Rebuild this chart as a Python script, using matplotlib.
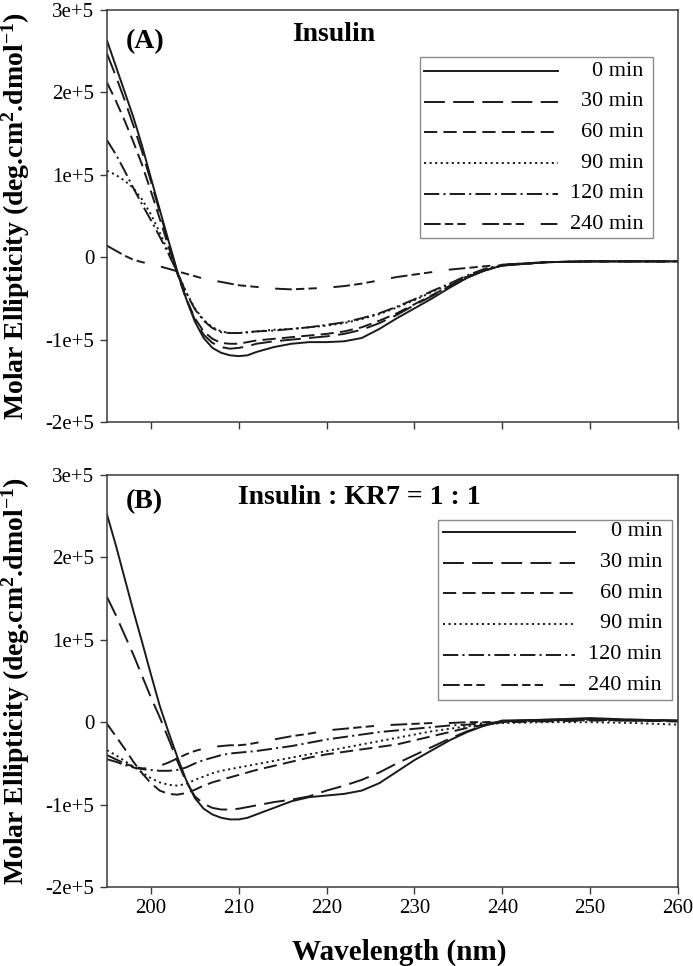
import matplotlib
matplotlib.use('Agg')
import matplotlib.pyplot as plt
from matplotlib.patches import Rectangle
from matplotlib.ticker import FuncFormatter

plt.rcParams['font.family'] = ['Liberation Serif', 'DejaVu Serif']
plt.rcParams['mathtext.default'] = 'regular'
plt.rcParams['lines.scale_dashes'] = False

# ---- data (molar ellipticity in units of 1e5 deg.cm2.dmol-1) ----
SCALE = 1e5
wavelength = [195, 196, 197, 198, 199, 200, 201, 202, 203, 204, 205, 206,
              207, 208, 209, 210, 211, 212, 214, 216, 218, 220, 222, 224,
              226, 228, 230, 232, 234, 236, 238, 240, 245, 250, 255, 260]
time_labels = ['0 min', '30 min', '60 min', '90 min', '120 min', '240 min']

# Panel A: insulin alone
a_0 = [2.63, 2.32, 2.01, 1.70, 1.35, 0.96, 0.58, 0.20, -0.17, -0.50, -0.78, -0.98,
       -1.10, -1.16, -1.19, -1.20, -1.19, -1.15, -1.09, -1.05, -1.03, -1.03, -1.02, -0.98,
       -0.87, -0.74, -0.62, -0.50, -0.37, -0.25, -0.16, -0.10, -0.06, -0.05, -0.05, -0.05]
a_30 = [2.47, 2.20, 1.91, 1.60, 1.28, 0.92, 0.55, 0.18, -0.18, -0.50, -0.76, -0.94,
        -1.04, -1.09, -1.11, -1.10, -1.08, -1.05, -1.02, -1.00, -0.98, -0.96, -0.93, -0.88,
        -0.80, -0.70, -0.58, -0.47, -0.35, -0.24, -0.16, -0.10, -0.06, -0.05, -0.05, -0.05]
a_60 = [2.12, 1.90, 1.66, 1.40, 1.12, 0.80, 0.47, 0.13, -0.20, -0.50, -0.74, -0.90,
        -0.99, -1.04, -1.05, -1.05, -1.03, -1.01, -0.99, -0.97, -0.95, -0.93, -0.90, -0.85,
        -0.77, -0.68, -0.57, -0.46, -0.35, -0.24, -0.16, -0.10, -0.06, -0.05, -0.05, -0.05]
a_90 = [1.05, 1.00, 0.93, 0.84, 0.70, 0.52, 0.30, 0.06, -0.18, -0.42, -0.62, -0.76,
        -0.85, -0.90, -0.92, -0.92, -0.91, -0.90, -0.88, -0.87, -0.85, -0.83, -0.80, -0.75,
        -0.69, -0.61, -0.52, -0.42, -0.33, -0.23, -0.15, -0.10, -0.06, -0.05, -0.05, -0.05]
a_120 = [1.42, 1.25, 1.05, 0.84, 0.64, 0.45, 0.25, 0.04, -0.18, -0.43, -0.63, -0.77,
         -0.86, -0.91, -0.92, -0.92, -0.91, -0.90, -0.89, -0.87, -0.85, -0.82, -0.79, -0.74,
         -0.68, -0.60, -0.51, -0.41, -0.32, -0.22, -0.14, -0.09, -0.06, -0.05, -0.05, -0.05]
a_240 = [0.14, 0.08, 0.02, -0.03, -0.06, -0.08, -0.11, -0.14, -0.17, -0.20, -0.23, -0.26,
         -0.28, -0.30, -0.32, -0.34, -0.35, -0.36, -0.38, -0.39, -0.38, -0.37, -0.35, -0.32,
         -0.28, -0.24, -0.21, -0.18, -0.15, -0.13, -0.11, -0.09, -0.06, -0.05, -0.05, -0.05]

# Panel B: insulin : KR7 = 1 : 1
b_0 = [2.52, 2.15, 1.75, 1.35, 0.97, 0.58, 0.20, -0.12, -0.42, -0.70, -0.92, -1.05,
       -1.12, -1.16, -1.18, -1.18, -1.16, -1.12, -1.04, -0.96, -0.91, -0.89, -0.87, -0.83,
       -0.74, -0.60, -0.46, -0.34, -0.22, -0.12, -0.04, 0.02, 0.03, 0.05, 0.03, 0.02]
b_30 = [1.52, 1.30, 1.06, 0.82, 0.56, 0.30, 0.06, -0.20, -0.47, -0.72, -0.90, -0.99,
        -1.04, -1.06, -1.06, -1.05, -1.03, -1.01, -0.97, -0.94, -0.90, -0.83, -0.77, -0.70,
        -0.61, -0.50, -0.40, -0.30, -0.20, -0.11, -0.04, 0.01, 0.03, 0.04, 0.03, 0.02]
b_60 = [-0.02, -0.17, -0.32, -0.48, -0.62, -0.74, -0.83, -0.87, -0.88, -0.86, -0.82, -0.77,
        -0.73, -0.70, -0.67, -0.64, -0.61, -0.58, -0.53, -0.48, -0.43, -0.39, -0.36, -0.33,
        -0.30, -0.27, -0.22, -0.17, -0.12, -0.07, -0.03, 0.00, 0.02, 0.03, 0.02, 0.01]
b_90 = [-0.34, -0.40, -0.47, -0.54, -0.61, -0.68, -0.73, -0.76, -0.77, -0.75, -0.70, -0.66,
        -0.62, -0.59, -0.57, -0.55, -0.53, -0.51, -0.47, -0.43, -0.39, -0.35, -0.31, -0.27,
        -0.23, -0.19, -0.15, -0.11, -0.08, -0.05, -0.03, -0.01, 0.00, 0.00, -0.01, -0.03]
b_120 = [-0.45, -0.48, -0.52, -0.55, -0.57, -0.58, -0.59, -0.59, -0.58, -0.55, -0.50, -0.46,
         -0.43, -0.40, -0.38, -0.37, -0.36, -0.35, -0.32, -0.29, -0.25, -0.21, -0.18, -0.15,
         -0.12, -0.10, -0.08, -0.06, -0.04, -0.03, -0.01, 0.00, 0.01, 0.02, 0.02, 0.01]
b_240 = [-0.40, -0.45, -0.50, -0.54, -0.56, -0.56, -0.53, -0.49, -0.44, -0.39, -0.35, -0.32,
         -0.30, -0.29, -0.28, -0.28, -0.27, -0.25, -0.21, -0.17, -0.14, -0.10, -0.08, -0.06,
         -0.04, -0.03, -0.02, -0.01, -0.01, 0.00, 0.00, 0.01, 0.02, 0.03, 0.02, 0.02]

# ---- styles ----
LINE_COLOR = '#1a1a1a'
SPINE_COLOR = '#3a3a3a'
DASHES = [None, (15, 6), (9.5, 4.5), (1.5, 2.5), (11, 3, 1.5, 3), (12, 3, 6, 3, 6, 12)]
LW = 1.4


def style_line(line, dash):
    line.set_color(LINE_COLOR)
    line.set_linewidth(LW)
    line.set_dash_capstyle('butt')
    if dash is not None:
        line.set_dashes(dash)


def y_fmt(v, pos):
    n = int(round(v / SCALE))
    return '0' if n == 0 else f'{n}e+5'


def draw_panel(ax, series, letter, title, title_x, title_y, letter_y, leg):
    for ys, dash in zip(series, DASHES):
        line, = ax.plot(wavelength, [v * SCALE for v in ys])
        style_line(line, dash)

    ax.set_xlim(195, 260)
    ax.set_ylim(-2e5, 3e5)
    ax.set_xticks(range(200, 261, 10))
    ax.set_yticks([-2e5, -1e5, 0, 1e5, 2e5, 3e5])
    ax.yaxis.set_major_formatter(FuncFormatter(y_fmt))
    ax.tick_params(direction='out', length=5, width=1, labelsize=15,
                   pad=4, color=SPINE_COLOR)
    for sp in ax.spines.values():
        sp.set_color(SPINE_COLOR)
        sp.set_linewidth(1.1)

    ax.text(0.032, letter_y, letter, transform=ax.transAxes,
            fontsize=20, fontweight='bold', va='baseline')
    ax.text(title_x, title_y, title, transform=ax.transAxes,
            fontsize=20, fontweight='bold', va='baseline')

    # legend box with right-aligned labels
    bx0, bx1, by0, by1, hx0, hx1, tx, ry = leg
    ax.add_patch(Rectangle((bx0, by0), bx1 - bx0, by1 - by0, transform=ax.transAxes,
                           facecolor='white', edgecolor='#8a8a8a', lw=1.0, zorder=5))
    for i, (lab, dash) in enumerate(zip(time_labels, DASHES)):
        yy = ry - i * 0.0745
        line, = ax.plot([hx0, hx1], [yy, yy], transform=ax.transAxes, zorder=6)
        style_line(line, dash)
        ax.text(tx, yy, lab, transform=ax.transAxes, fontsize=16,
                ha='right', va='center', zorder=6)


fig = plt.figure(figsize=(6.93, 9.66), dpi=100)
fig.patch.set_facecolor('white')

ax_a = fig.add_axes([0.1544, 0.5631, 0.824, 0.4265])
ax_b = fig.add_axes([0.1544, 0.0818, 0.824, 0.4265])

draw_panel(ax_a, [a_0, a_30, a_60, a_90, a_120, a_240], '(A)', 'Insulin',
           0.324, 0.925, 0.908,
           (0.549, 0.957, 0.447, 0.886, 0.555, 0.790, 0.940, 0.852))
draw_panel(ax_b, [b_0, b_30, b_60, b_90, b_120, b_240], '(B)', 'Insulin : KR7 = 1 : 1',
           0.229, 0.929, 0.920,
           (0.580, 0.989, 0.454, 0.891, 0.588, 0.820, 0.972, 0.862))

ax_a.tick_params(labelbottom=False)

ylab = 'Molar Ellipticity (deg.cm$^{2}$.dmol$^{-1}$)'
fig.text(16 / 693, 1 - 216 / 966, ylab, rotation=90, ha='center', va='center',
         fontsize=20, fontweight='bold')
fig.text(16 / 693, 1 - 681 / 966, ylab, rotation=90, ha='center', va='center',
         fontsize=20, fontweight='bold')
fig.text(399 / 693, 1 - 952 / 966, 'Wavelength (nm)', ha='center', va='center',
         fontsize=21, fontweight='bold')

fig.savefig('out.png', dpi=100)
